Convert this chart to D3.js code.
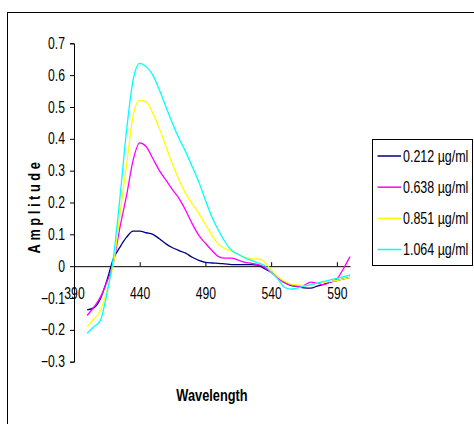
<!DOCTYPE html>
<html>
<head>
<meta charset="utf-8">
<script src="https://cdn.jsdelivr.net/npm/d3@7"></script>
<style>
  body { margin: 0; background: #fff; }
  svg { display: block; }
  text { font-family: "Liberation Sans", Arial, sans-serif; }
</style>
</head>
<body>
<svg id="chart" width="474" height="424"></svg>
<script>
// wavelength grid (nm)
var wavelengths = [400,405,410,415,420,425,430,435,440,445,450,455,460,465,470,475,480,485,490,495,
                   500,505,510,515,520,525,530,535,540,545,550,555,560,565,570,575,580,585,590,595,600];

var s0212 = [-0.137,-0.131,-0.103,-0.045,0.023,0.060,0.091,0.110,0.110,0.105,0.100,0.086,0.070,0.058,0.049,0.041,0.028,0.018,0.012,0.010,
             0.009,0.007,0.005,0.005,0.005,0.005,0.003,-0.008,-0.019,-0.035,-0.050,-0.060,-0.064,-0.068,-0.069,-0.063,-0.057,-0.050,-0.045,-0.040,-0.035];
var s0638 = [-0.155,-0.129,-0.098,-0.050,0.010,0.123,0.222,0.333,0.387,0.375,0.338,0.300,0.270,0.240,0.212,0.175,0.133,0.097,0.072,0.049,
             0.030,0.025,0.025,0.019,0.012,0.009,0.005,-0.003,-0.019,-0.037,-0.052,-0.059,-0.063,-0.060,-0.050,-0.053,-0.058,-0.050,-0.040,-0.008,0.030];
var s0851 = [-0.190,-0.166,-0.140,-0.077,0.007,0.165,0.317,0.474,0.521,0.516,0.480,0.432,0.375,0.320,0.270,0.228,0.196,0.165,0.131,0.097,
             0.068,0.055,0.047,0.037,0.028,0.023,0.023,0.013,-0.012,-0.033,-0.047,-0.056,-0.059,-0.061,-0.059,-0.053,-0.050,-0.048,-0.045,-0.040,-0.035];
var s1064 = [-0.211,-0.190,-0.171,-0.087,0.028,0.217,0.427,0.585,0.637,0.626,0.600,0.553,0.500,0.448,0.400,0.359,0.312,0.264,0.207,0.154,
             0.112,0.076,0.049,0.037,0.026,0.018,0.010,0.002,-0.019,-0.040,-0.066,-0.072,-0.068,-0.063,-0.058,-0.053,-0.048,-0.043,-0.038,-0.033,-0.027];

var seriesNames = ["0.212 µg/ml", "0.638 µg/ml", "0.851 µg/ml", "1.064 µg/ml"];
var seriesColors = ["#000080", "#ff00ff", "#ffff00", "#00ffff"];
var seriesValues = [s0212, s0638, s0851, s1064];

var xTicks = [390, 440, 490, 540, 590];
var yTicks = [-0.3, -0.2, -0.1, 0, 0.1, 0.2, 0.3, 0.4, 0.5, 0.6, 0.7];

// squeeze text horizontally (no narrow font installed)
function squeeze(sel, f) {
    sel.each(function() {
        var t = d3.select(this), x0 = +t.attr("x") || 0;
        t.attr("transform", (t.attr("transform") || "") +
            " translate(" + x0 + ",0) scale(" + f + ",1) translate(" + (-x0) + ",0)");
    });
}

var svg = d3.select("#chart");

// outer chart border (runs off right/bottom edge)
svg.append("rect")
    .attr("x", 7.5).attr("y", 12.5)
    .attr("width", 480).attr("height", 430)
    .attr("fill", "none").attr("stroke", "#000").attr("stroke-width", 1);

var x = d3.scaleLinear().domain([390, 600]).range([74, 350]);
var y = d3.scaleLinear().domain([-0.3, 0.7]).range([361.7, 43.3]);

// y axis
var yAxis = svg.append("g")
    .attr("transform", "translate(" + x(390) + ",0)")
    .call(d3.axisLeft(y).tickValues(yTicks).tickSize(4).tickPadding(5)
        .tickFormat(function(d) { return d === 0 ? "0" : d3.format(".1f")(d); }));
yAxis.select(".domain").attr("stroke", "#000");
yAxis.selectAll(".tick line").attr("stroke", "#000");
yAxis.selectAll("text").attr("font-size", 16).attr("fill", "#000")
    .style("font-family", "'Liberation Sans', Arial, sans-serif")
    .call(squeeze, 0.76);

// x axis at y=0, ticks pointing up, labels below
var xAxis = svg.append("g")
    .attr("transform", "translate(0," + y(0) + ")")
    .call(d3.axisTop(x).tickValues(xTicks).tickSize(4).tickSizeOuter(0).tickFormat(d3.format("d")));
xAxis.select(".domain").attr("stroke", "#000");
xAxis.selectAll(".tick line").attr("stroke", "#000");
xAxis.selectAll("text")
    .attr("y", 27).attr("dy", "0.35em")
    .attr("font-size", 16).attr("fill", "#000")
    .style("font-family", "'Liberation Sans', Arial, sans-serif")
    .call(squeeze, 0.76);

// lines
var line = d3.line()
    .x(function(d, i) { return x(wavelengths[i]); })
    .y(function(d) { return y(d); })
    .curve(d3.curveMonotoneX);

svg.append("g").selectAll("path")
    .data(seriesValues)
    .enter().append("path")
    .attr("d", line)
    .attr("fill", "none")
    .attr("stroke", function(d, i) { return seriesColors[i]; })
    .attr("stroke-width", 1.3);

// axis titles
svg.append("text")
    .attr("x", 212).attr("y", 395).attr("dy", "0.35em")
    .attr("text-anchor", "middle")
    .attr("font-size", 16).attr("font-weight", "bold")
    .text("Wavelength")
    .call(squeeze, 0.8);

svg.append("text")
    .attr("transform", "translate(34,206) rotate(-90)")
    .attr("dy", "0.35em")
    .attr("text-anchor", "middle")
    .attr("font-size", 16).attr("font-weight", "bold")
    .attr("letter-spacing", "4.5px")
    .text("Amplitude")
    .call(squeeze, 0.8);

// legend
var legend = svg.append("g");
legend.append("rect")
    .attr("x", 372.5).attr("y", 139.5)
    .attr("width", 100).attr("height", 126)
    .attr("fill", "#fff").attr("stroke", "#000");

var legendY = d3.scalePoint().domain(seriesNames).range([156, 249.5]);
var entries = legend.selectAll(".entry")
    .data(seriesNames)
    .enter().append("g").attr("class", "entry")
    .attr("transform", function(d) { return "translate(0," + legendY(d) + ")"; });
entries.append("line")
    .attr("x1", 377.5).attr("x2", 401)
    .attr("stroke", function(d, i) { return seriesColors[i]; })
    .attr("stroke-width", 1.5);
entries.append("text")
    .attr("x", 403).attr("dy", "0.35em")
    .attr("font-size", 16)
    .text(function(d) { return d; })
    .call(squeeze, 0.78);
</script>
</body>
</html>
